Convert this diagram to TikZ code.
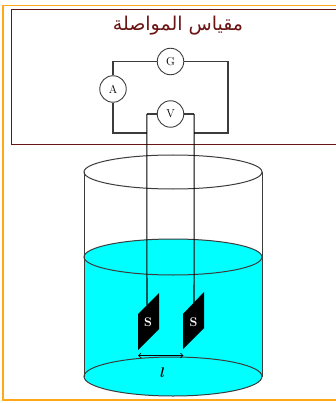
\documentclass[tikz,border=0pt]{standalone}
\usepackage{fontspec}
\usetikzlibrary{arrows.meta}
\TeXXeTstate=1
\newfontfamily\arabicfont[Script=Arabic]{DejaVu Sans}
\definecolor{frameor}{HTML}{FFA81C}
\definecolor{boxred}{HTML}{6A1414}
\definecolor{water}{HTML}{00FFFF}
\definecolor{wiregray}{HTML}{3C3C3C}
\tikzset{
  meter/.style={circle,draw=wiregray,fill=white,line width=.9pt,minimum size=26.5pt,inner sep=0pt,font=\fontsize{11.5}{13}\selectfont},
  wire/.style={draw=wiregray,line width=1.05pt},
  lead/.style={draw=black,line width=1.05pt},
  vessel/.style={draw=wiregray,line width=1pt},
  plate/.style={fill=black,draw=none},
  plabel/.style={text=white,font=\fontsize{12.5}{14}\selectfont\bfseries},
}
\begin{document}
\begin{tikzpicture}[x=1pt,y=-1pt]
\useasboundingbox (0,0) rectangle (336,403);
\fill[white] (0,0) rectangle (336,403);
% outer frame
\draw[frameor,line width=1.8pt] (336,5.5) -- (3.2,5.5) -- (3.2,400.2) -- (336,400.2);
% instrument box
\draw[boxred,line width=1pt] (336,9.3) -- (11.7,9.3) -- (11.7,144.3) -- (336,144.3);
\node[text=boxred,inner sep=0pt] (title) at (178,25.5) {\fontsize{19}{22}\selectfont\arabicfont\beginR مقياس المواصلة\endR};
% cylinder
\coordinate (cylTL) at (84,172);
\coordinate (cylTR) at (262,172);
\coordinate (cylBL) at (84,376.5);
\coordinate (cylBR) at (262,376.5);
\fill[water] (84,257) rectangle (262,376.5);
\fill[water] (173,257) ellipse[x radius=89,y radius=18];
\fill[water] (173,376.5) ellipse[x radius=89,y radius=19.5];
\draw[vessel] (173,172) ellipse[x radius=89,y radius=17];
\draw[vessel] (173,257) ellipse[x radius=89,y radius=18];
\draw[vessel] (173,376.5) ellipse[x radius=89,y radius=19.5];
\draw[vessel] (cylTL) -- (cylBL);
\draw[vessel] (cylTR) -- (cylBR);
% plates
\fill[plate] (138,314) -- (159,293) -- (159,329) -- (138,350) -- cycle;
\fill[plate] (183,314) -- (204,292) -- (204,328) -- (183,349) -- cycle;
\coordinate (plateL) at (147,305);
\coordinate (plateR) at (194,304);
\node[plabel,inner sep=0pt] (sL) at (148,322) {S};
\node[plabel,inner sep=0pt] (sR) at (193.5,322) {S};
% circuit
\node[meter] (G) at (170.5,61.5) {G};
\node[meter] (A) at (113,89) {A};
\node[meter] (V) at (170.5,114) {V};
\coordinate (cTL) at (113,61.5);
\coordinate (cTR) at (228,61.5);
\coordinate (cBL) at (113,133);
\coordinate (cBR) at (228,133);
\coordinate (jL) at (146.8,133);
\coordinate (jR) at (194.2,133);
\coordinate (vL) at (146.8,114);
\coordinate (vR) at (194.2,114);
\draw[wire] (A.north) -- (cTL) -- (G.west);
\draw[wire] (G.east) -- (cTR) -- (cBR) -- (jR);
\draw[wire] (A.south) -- (cBL) -- (jL);
\draw[wire] (V.west) -- (vL);
\draw[wire] (V.east) -- (vR);
\draw[lead] (vL) -- (plateL);
\draw[lead] (vR) -- (plateR);
% distance
\coordinate (dL) at (138,355.5);
\coordinate (dR) at (183.5,355.5);
\draw[line width=.7pt,{Straight Barb[length=2.5pt,width=4.5pt]}-{Straight Barb[length=2.5pt,width=4.5pt]}] (dL) -- (dR);
\node[inner sep=0pt,font=\fontsize{14}{16}\selectfont\bfseries\itshape] (len) at (161.5,372.5) {l};
\end{tikzpicture}
\end{document}
